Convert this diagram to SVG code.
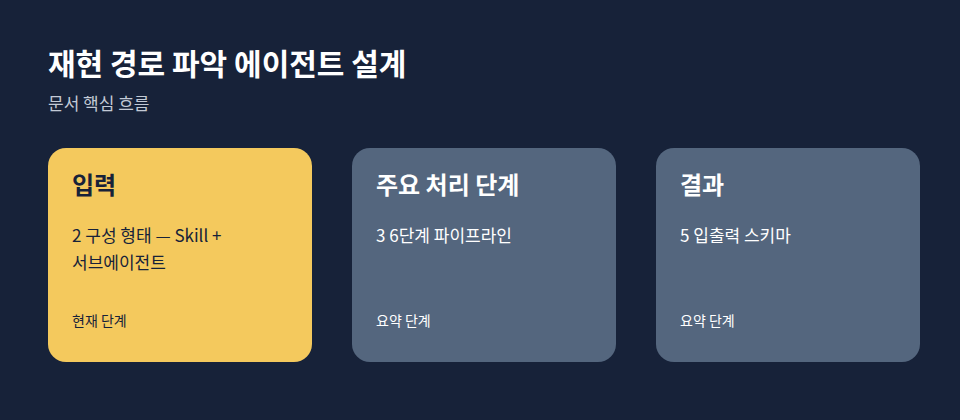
<svg xmlns="http://www.w3.org/2000/svg" width="960" height="420" viewBox="0 0 960 420">
<style>
text{font-family:"Noto Sans CJK KR","Noto Sans",sans-serif}
.title{font-size:30px;font-weight:700;fill:#ffffff}
.sub{font-size:17px;fill:#c3cad6}
.ct{font-size:24px;font-weight:700}
.cb{font-size:17px}
.cf{font-size:14px}
.dark{fill:#172239}
.light{fill:#ffffff}
</style>
<rect width="960" height="420" fill="#172239"/>
<text class="title" x="48" y="75">재현 경로 파악 에이전트 설계</text>
<text class="sub" x="48" y="110">문서 핵심 흐름</text>
<g id="connectors"/>
<g id="node-input">
<rect x="48" y="148" width="264" height="214" rx="18" fill="#f4c95d"/>
<text class="ct dark" x="72" y="194">입력</text>
<text class="cb dark" x="72" y="242">2 구성 형태 — Skill +</text>
<text class="cb dark" x="72" y="269">서브에이전트</text>
<text class="cf dark" x="72" y="326">현재 단계</text>
</g>
<g id="node-process">
<rect x="352" y="148" width="264" height="214" rx="18" fill="#54667e"/>
<text class="ct light" x="376" y="194">주요 처리 단계</text>
<text class="cb light" x="376" y="242">3 6단계 파이프라인</text>
<text class="cf light" x="376" y="326">요약 단계</text>
</g>
<g id="node-result">
<rect x="656" y="148" width="264" height="214" rx="18" fill="#54667e"/>
<text class="ct light" x="680" y="194">결과</text>
<text class="cb light" x="680" y="242">5 입출력 스키마</text>
<text class="cf light" x="680" y="326">요약 단계</text>
</g>
</svg>
